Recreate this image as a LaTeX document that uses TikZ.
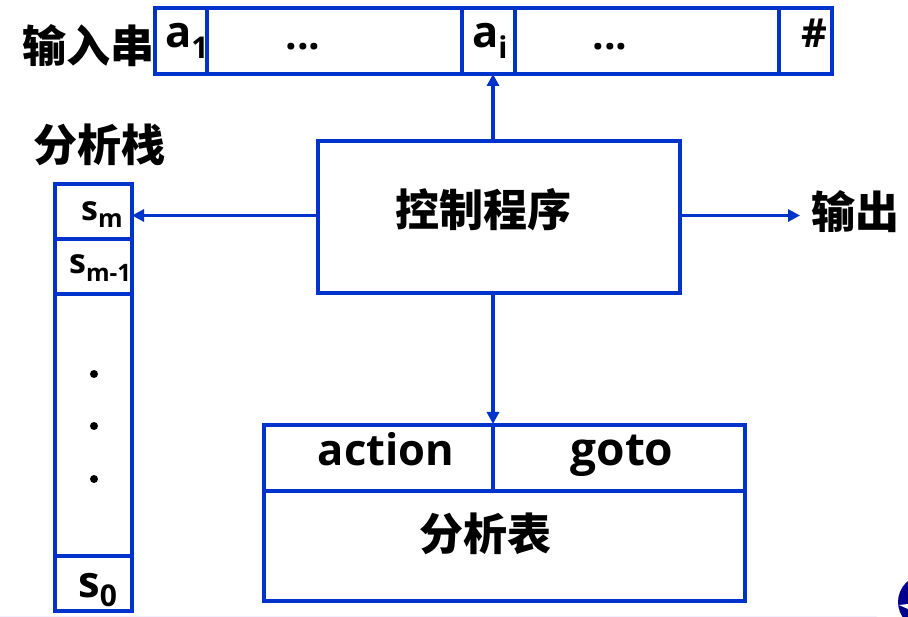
\documentclass[tikz,border=0pt]{standalone}
\usepackage{fontspec}
\setmainfont{Open Sans}[BoldFont={Open Sans Bold}]
\newfontfamily\cjkb{Noto Sans CJK SC Black}
\usetikzlibrary{arrows.meta}
\definecolor{lineblue}{RGB}{0,51,204}
\tikzset{
  cell/.style={draw=lineblue,line width=4pt,rectangle,inner sep=0pt,outer sep=0pt,anchor=north west,line join=miter,yshift=-0.7pt},
  cjk/.style={inner sep=0pt,font=\cjkb\fontsize{44}{44}\selectfont,text=black},
  latin/.style={inner sep=0pt,font=\bfseries\fontsize{43.5}{43.5}\selectfont,text=black},
  small/.style={inner sep=0pt,font=\bfseries\fontsize{34}{34}\selectfont,text=black},
  dots/.style={inner sep=0pt,font=\bfseries\fontsize{41}{41}\selectfont,text=black},
  link/.style={draw=lineblue,line width=3.4pt,-{Stealth[length=12pt,width=12pt,inset=0pt]}}
}
\newcommand{\cell}[5]{\node[cell,minimum width=#4pt,minimum height=#5pt] (#1) at (#2,#3) {};}
\begin{document}
\begin{tikzpicture}[x=1pt,y=-1pt]
\useasboundingbox (0,0) rectangle (908,617);
% faint band and logo fragment
\fill[blue!6] (0,615.5) rectangle (877,617);
\begin{scope}
\clip (0,0) rectangle (908,617);
\fill[blue!55!black] (925,602) circle (27);
\fill[white] (899,605) -- (908,604) -- (908,609) -- cycle;
\end{scope}
% input string
\cell{ia}{155}{7}{52}{66}
\cell{ib}{207}{7}{255}{66}
\cell{ic}{462}{7}{53}{66}
\cell{id}{515}{7}{264}{66}
\cell{ie}{779}{7}{53}{66}
\node[cjk,anchor=west] (tin) at (22,46) {输入串};
\node[latin,anchor=base west] (ta) at (165,48) {a\raisebox{-11pt}{\fontsize{30}{30}\selectfont 1}};
\node[latin,anchor=base west] (tai) at (472,48) {a\raisebox{-11pt}{\fontsize{30}{30}\selectfont i}};
\node[dots,anchor=base] (d1) at (303,50) {...};
\node[dots,anchor=base] (d2) at (610,50) {...};
\node[small,font=\bfseries\fontsize{40}{40}\selectfont] (hash) at (814,33) {\#};
% stack
\node[cjk,anchor=west] (tst) at (33,145) {分析栈};
\cell{sa}{55}{183}{77}{55}
\cell{sb}{55}{238}{77}{55}
\cell{sc}{55}{293}{77}{262}
\cell{sd}{55}{555}{77}{55}
\node[small,anchor=base west] (sm) at (81,221) {s\raisebox{-7pt}{\fontsize{25}{25}\selectfont m}};
\node[small,anchor=base west] (sm1) at (69,274) {s\raisebox{-8pt}{\fontsize{24}{24}\selectfont m-1}};
\node[latin,anchor=base west] (s0) at (78,597) {s\raisebox{-9pt}{\fontsize{30}{30}\selectfont 0}};
\fill (94,374) circle (4);
\fill (94,426) circle (4);
\fill (94,479) circle (4);
% control
\cell{ctl}{318}{140}{362}{152}
\node[cjk] (tctl) at (483,210) {控制程序};
% output
\coordinate (out) at (800,215.5);
\node[cjk,anchor=west] (tout) at (811,212) {输出};
% table
\cell{ta1}{264}{424}{229}{66}
\cell{tg}{493}{424}{252}{66}
\cell{tb}{264}{490}{481}{110}
\node[latin,anchor=base] (tact) at (386,466) {action};
\node[latin,anchor=base,font=\bfseries\fontsize{46}{46}\selectfont] (tgoto) at (622,466) {goto};
\node[cjk] (ttab) at (485,534) {分析表};
% connectors
\coordinate (cu) at (493,140);
\coordinate (iu) at (493,74);
\coordinate (cd) at (493,292);
\coordinate (td) at (493,424);
\draw[link] (cu) -- (iu);
\draw[link] (cd) -- (td);
\draw[link] (ctl.west |- out) -- (sa.east |- out);
\draw[link] (ctl.east |- out) -- (out);
\end{tikzpicture}
\end{document}
